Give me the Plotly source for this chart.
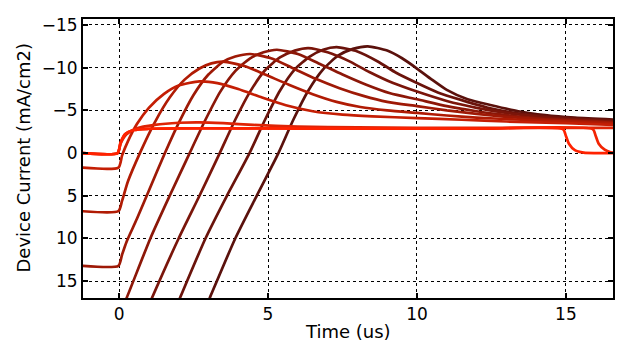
import plotly.graph_objects as go

# ---- data (time in us, current in mA/cm2) ----
t_a0 = [-1.25, -0.05, 0.05, 0.2, 0.5, 1.0, 2.0, 4.0, 8.0, 12.0, 14.9, 15.0, 15.1, 15.3, 15.6, 16.0, 16.7]
v_a0 = [0, 0, -1.2, -2.2, -2.7, -2.85, -2.9, -2.9, -2.85, -2.85, -2.8, -2.0, -1.1, -0.35, -0.05, 0, 0]

t_a1 = [-1.25, -0.05, 0.05, 0.2, 0.5, 1.0, 2.0, 4.0, 8.0, 12.0, 15.9, 16.0, 16.1, 16.3, 16.5, 16.7]
v_a1 = [0, 0, -1.2, -2.2, -2.7, -2.85, -2.9, -2.9, -2.9, -2.85, -2.8, -2.0, -1.1, -0.4, -0.1, 0]

t_a2 = [-1.25, -0.05, 0.05, 0.25, 0.6, 1.2, 2.0, 2.7, 3.5, 4.5, 6.0, 8.0, 10.0, 13.0, 16.7]
v_a2 = [0, 0, -1.1, -2.2, -2.9, -3.3, -3.55, -3.6, -3.5, -3.3, -3.1, -3.0, -2.95, -2.95, -2.95]

t_c = [-1.25, -0.02, 0.1, 0.3, 0.6, 1.0, 1.5, 2.0, 2.7, 3.3, 4.0, 4.8, 5.6, 6.5, 7.5, 8.5, 10.0, 11.5, 13.0, 15.0, 16.7]
v_c = [1.7, 1.7, 0.3, -1.4, -3.4, -5.3, -6.9, -7.9, -8.4, -8.2, -7.5, -6.5, -5.6, -4.9, -4.5, -4.3, -4.1, -3.9, -3.7, -3.5, -3.3]

t_d = [-1.25, -0.02, 0.1, 0.3, 0.7, 1.2, 1.7, 2.2, 2.7, 3.1, 3.5, 4.2, 4.9, 5.7, 6.5, 7.3, 8.1, 9.0, 10.0, 11.0, 12.0, 13.5, 15.0, 16.7]
v_d = [6.8, 6.8, 5.6, 3.3, 0, -3.6, -6.5, -8.6, -9.9, -10.5, -10.7, -10.2, -9.2, -8.0, -6.9, -6.0, -5.4, -5.0, -4.7, -4.4, -4.15, -3.9, -3.7, -3.45]

t_e = [-1.25, -0.02, 0.1, 0.25, 0.6, 1.0, 1.54, 2.0, 2.5, 3.0, 3.5, 3.9, 4.4, 5.1, 5.8, 6.6, 7.4, 8.2, 9.0, 10.0, 11.0, 12.0, 13.0, 14.0, 15.0, 16.7]
v_e = [13.2, 13.2, 11.9, 10.4, 7.7, 4.4, 0, -3.5, -6.8, -9.2, -10.7, -11.3, -11.6, -11.1, -10.0, -8.7, -7.6, -6.7, -6.0, -5.5, -5.0, -4.6, -4.25, -4.0, -3.8, -3.55]

t_f = [-0.3, 0.25, 1.05, 1.7, 2.37, 2.9, 3.4, 3.9, 4.4, 4.85, 5.3, 6.0, 6.7, 7.5, 8.3, 9.1, 10.0, 11.0, 12.0, 13.0, 14.0, 15.0, 16.7]
v_f = [21.5, 17, 10, 5, 0, -3.9, -7.2, -9.6, -11.1, -11.8, -12.1, -11.6, -10.5, -9.2, -8.0, -7.0, -6.3, -5.5, -4.9, -4.45, -4.1, -3.9, -3.6]

t_g = [0.55, 1.1, 2.0, 2.7, 3.38, 3.9, 4.4, 4.9, 5.4, 5.9, 6.35, 7.0, 7.7, 8.4, 9.2, 10.0, 11.0, 12.0, 13.0, 14.0, 15.0, 16.7]
v_g = [21.5, 17, 10, 5, 0, -3.9, -7.2, -9.7, -11.2, -12.0, -12.3, -11.8, -10.8, -9.5, -8.2, -7.2, -6.1, -5.3, -4.7, -4.3, -4.0, -3.7]

t_h = [1.5, 2.04, 2.9, 3.62, 4.38, 4.9, 5.4, 5.9, 6.4, 6.85, 7.3, 8.0, 8.7, 9.3, 10.0, 10.7, 11.5, 12.5, 13.5, 14.5, 15.5, 16.7]
v_h = [21.5, 17, 10, 5, 0, -3.9, -7.3, -9.8, -11.3, -12.1, -12.4, -11.9, -10.7, -9.4, -8.2, -7.1, -6.2, -5.2, -4.6, -4.25, -4.0, -3.8]

t_i = [2.5, 3.04, 3.9, 4.62, 5.35, 5.85, 6.35, 6.85, 7.35, 7.85, 8.35, 9.0, 9.5, 10.0, 10.5, 11.0, 11.7, 12.5, 13.4, 14.3, 15.3, 16.7]
v_i = [21.5, 17, 10, 5, 0, -3.9, -7.3, -9.8, -11.4, -12.2, -12.5, -12.0, -11.1, -9.9, -8.6, -7.4, -6.3, -5.6, -4.9, -4.45, -4.15, -3.9]

x_ticks = [0, 5, 10, 15]
y_ticks = [-15, -10, -5, 0, 5, 10, 15]
y_tick_labels = ["\u221215", "\u221210", "\u22125", "0", "5", "10", "15"]

# darkest drawn first, brightest last
series = [
    (t_i, v_i, "#5a110c"),
    (t_h, v_h, "#6a130b"),
    (t_g, v_g, "#7a150a"),
    (t_f, v_f, "#8c1708"),
    (t_e, v_e, "#9e1906"),
    (t_d, v_d, "#b01b04"),
    (t_c, v_c, "#c41e04"),
    (t_a2, v_a2, "#de2406"),
    (t_a1, v_a1, "#f22403"),
    (t_a0, v_a0, "#ff2200"),
]

fig = go.Figure()
for tx, vy, col in series:
    fig.add_trace(go.Scatter(x=tx, y=vy, mode="lines",
                             line=dict(color=col, width=2.7, shape="spline", smoothing=0.6),
                             showlegend=False, hoverinfo="skip"))

font = "DejaVu Sans, Liberation Sans, sans-serif"
axis_common = dict(
    showline=True, linecolor="black", linewidth=2, mirror="ticks",
    ticks="inside", ticklen=5, tickwidth=1.5, tickcolor="black",
    showgrid=True, gridcolor="black", gridwidth=1, griddash="3px,3px",
    zeroline=False, tickfont=dict(family=font, size=17, color="black"),
)
fig.update_xaxes(range=[-1.21, 16.58], tickvals=x_ticks, ticktext=[str(v) for v in x_ticks], **axis_common)
fig.update_yaxes(range=[16.97, -15.7], tickvals=y_ticks, ticktext=y_tick_labels, **axis_common)

# the page body adds an 8px offset, so the figure is sized/margined to compensate
fig.update_layout(
    width=628, height=347,
    margin=dict(l=75, r=23, t=7, b=57),
    paper_bgcolor="white", plot_bgcolor="white",
    font=dict(family=font, color="black"),
    annotations=[
        dict(text="Time (us)", xref="paper", yref="paper", x=0.5, y=0,
             yshift=-33, xanchor="center", yanchor="middle", showarrow=False,
             font=dict(family=font, size=18, color="black")),
        dict(text="Device Current (mA/cm2)", xref="paper", yref="paper", x=0, y=0.5,
             xshift=-60, xanchor="center", yanchor="middle", textangle=-90, showarrow=False,
             font=dict(family=font, size=18, color="black")),
    ],
)

fig.write_html("out.html")
